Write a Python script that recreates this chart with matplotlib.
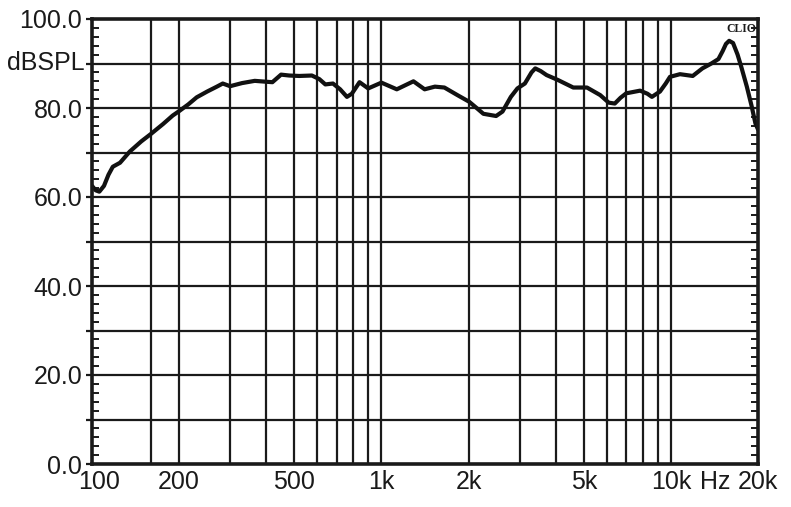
import numpy as np
import matplotlib
matplotlib.use("Agg")
import matplotlib.pyplot as plt
from matplotlib.ticker import FixedLocator, NullLocator, NullFormatter
import matplotlib.transforms as mtransforms

# frequency response (Hz, dB SPL)
freq = [100, 103, 106, 110, 114, 118, 125, 135, 148, 160, 176, 190, 200, 215,
        230, 250, 270, 283, 300, 330, 365, 400, 420, 450, 480, 520, 575, 610,
        640, 680, 720, 760, 790, 840, 900, 1000, 1130, 1290, 1410, 1530, 1650,
        1830, 2010, 2150, 2250, 2490, 2620, 2800, 2950, 3130, 3300, 3400, 3550,
        3720, 4070, 4600, 5130, 5700, 6100, 6400, 6700, 7010, 7830, 8300, 8600,
        9170, 9600, 9930, 10750, 11900, 12850, 13800, 14600, 15100, 15500,
        15900, 16400, 17000, 17500, 18300, 19000, 19600, 20000]
spl = [62.5, 61.5, 61.2, 62.5, 65.0, 66.8, 67.7, 70.2, 72.5, 74.2, 76.4, 78.3,
       79.3, 80.8, 82.4, 83.7, 84.8, 85.5, 84.9, 85.6, 86.1, 85.9, 85.8, 87.5,
       87.3, 87.2, 87.3, 86.5, 85.3, 85.5, 84.2, 82.5, 83.2, 85.8, 84.4, 85.7,
       84.2, 86.0, 84.2, 84.8, 84.6, 82.9, 81.4, 79.8, 78.7, 78.2, 79.2, 82.5,
       84.4, 85.5, 88.0, 88.9, 88.3, 87.4, 86.3, 84.6, 84.6, 82.9, 81.2, 81.0,
       82.3, 83.3, 83.9, 83.2, 82.5, 83.7, 85.5, 87.0, 87.6, 87.2, 88.9, 90.0,
       91.0, 92.8, 94.4, 95.1, 94.6, 92.0, 89.3, 84.8, 80.5, 76.5, 75.2]

x_grid = [160, 200, 300, 400, 500, 600, 700, 800, 900, 1000,
          2000, 3000, 4000, 5000, 6000, 7000, 8000, 9000, 10000]
x_ticks = [100, 200, 500, 1000, 2000, 5000, 10000, 20000]
x_labels = ["100", "200", "500", "1k", "2k", "5k", "10k", "20k"]
y_ticks = [0, 20, 40, 60, 80, 100]
y_labels = ["0.0", "20.0", "40.0", "60.0", "80.0", "100.0"]

font = ["Liberation Sans", "DejaVu Sans"]
fsize = 18
ink = "#1a1a1a"

fig = plt.figure(figsize=(7.91, 5.07), dpi=100)
ax = fig.add_axes([92 / 791, 43 / 507, 666 / 791, 445 / 507])
ax.set_xscale("log")
ax.set_xlim(100, 20000)
ax.set_ylim(0, 100)

# grid
for f in x_grid:
    ax.axvline(f, color=ink, lw=1.6, zorder=1)
for y in range(10, 100, 10):
    ax.axhline(y, color=ink, lw=1.6, zorder=1)

ax.plot(freq, spl, color="#111111", lw=3.0, solid_joinstyle="round",
        solid_capstyle="round", zorder=3)

for s in ax.spines.values():
    s.set_linewidth(2.6)
    s.set_color(ink)
    s.set_zorder(4)

# x ticks
ax.xaxis.set_major_locator(FixedLocator(x_ticks))
ax.xaxis.set_minor_locator(NullLocator())
ax.xaxis.set_minor_formatter(NullFormatter())
ax.set_xticklabels(x_labels)
ax.tick_params(axis="x", which="major", length=0, pad=4)
for lab in ax.get_xticklabels():
    lab.set_family(font)
    lab.set_fontsize(fsize)
    lab.set_color(ink)
first = ax.get_xticklabels()[0]
first.set_transform(first.get_transform() +
                    mtransforms.ScaledTranslation(7 / 100, 0, fig.dpi_scale_trans))

# y ticks
ax.set_yticks(range(0, 101, 10))
ax.set_yticklabels([y_labels[y_ticks.index(v)] if v in y_ticks else "" for v in range(0, 101, 10)])
ax.set_yticks(np.arange(0, 101, 2), minor=True)
ax.tick_params(axis="y", which="major", direction="out", length=4, width=1.6,
               color=ink, pad=3)
ax.tick_params(axis="y", which="minor", direction="in", length=5, width=1.4,
               color=ink, left=True, right=True)
for lab in ax.get_yticklabels():
    lab.set_family(font)
    lab.set_fontsize(fsize)
    lab.set_color(ink)

ax.text(-0.0105, 0.9, "dBSPL", transform=ax.transAxes, ha="right", va="center",
        family=font, fontsize=fsize, color=ink)
hz_trans = ax.get_xaxis_transform() + mtransforms.ScaledTranslation(
    0, -4 / 72, fig.dpi_scale_trans)
ax.text(14200, 0, "Hz", transform=hz_trans, ha="center", va="top",
        family=font, fontsize=fsize, color=ink)
ax.text(0.998, 0.99, "CLIO", transform=ax.transAxes, ha="right", va="top",
        family=["Liberation Serif", "DejaVu Serif"], fontweight="bold",
        fontsize=8.5, color=ink, zorder=5)

fig.savefig("out.png", dpi=100)
